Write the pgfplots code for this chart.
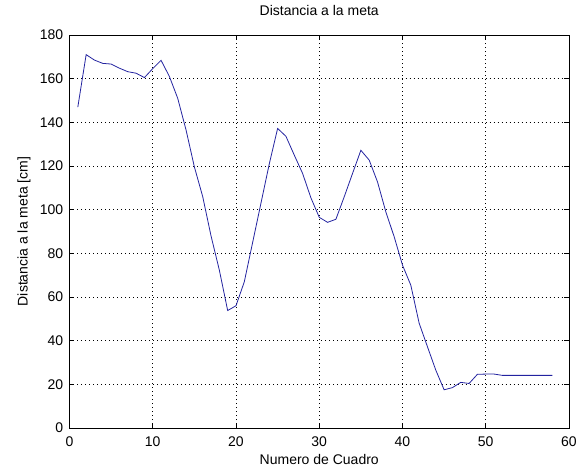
\documentclass[border=0pt]{standalone}
\usepackage{pgfplots}
\pgfplotsset{compat=1.18}
\usepackage{fontspec}
\setmainfont{Liberation Sans}
\definecolor{trace}{RGB}{35,35,160}
\pgfplotstableread{
x y
1 147
2 171
3 168.5
4 167
5 166.7
6 164.8
7 163.2
8 162.5
9 160.5
10 164.6
11 168.4
12 161
13 151
14 136.5
15 119.6
16 106
17 88
18 72.3
19 53.8
20 56
21 67
22 85
23 103
24 121
25 137.2
26 133.6
27 125
28 116.6
29 105.4
30 96.5
31 94.2
32 95.6
33 105.9
34 116.6
35 127.2
36 122.7
37 112.7
38 99
39 87.6
40 74.6
41 65.4
42 48
43 37.2
44 26.5
45 17.5
46 18.5
47 20.9
48 20.4
49 24.6
50 24.7
51 24.7
52 24.1
53 24.1
54 24.1
55 24.1
56 24.1
57 24.1
58 24.1
}\distdata
\begin{document}
\fontsize{14}{16}\selectfont
\begin{tikzpicture}
\begin{axis}[
  at={(0,0)}, anchor=south west,
  scale only axis, width=499.5pt, height=393pt,
  xmin=0, xmax=60, ymin=0, ymax=180,
  xtick={0,10,...,60}, ytick={0,20,...,180},
  tick align=inside, tick pos=both,
  major tick length=5pt,
  tick style={black, line width=0.6pt},
  grid=major,
  major grid style={black, line width=0.6pt, dash pattern=on 0.8pt off 3.2pt},
  axis line style={black, line width=0.8pt},
  /pgf/number format/assume math mode=true,
  ticklabel style={font=\fontsize{14}{16}\selectfont},
  xticklabel style={yshift=-4pt},
  yticklabel style={xshift=-1.5pt},
  title={Distancia a la meta},
  xlabel={Numero de Cuadro},
  ylabel={Distancia a la meta [cm]},
  title style={at={(axis description cs:0.5,1.047)}, anchor=center, font=\fontsize{14}{16}\selectfont},
  xlabel style={at={(axis description cs:0.5,-0.079)}, anchor=center, font=\fontsize{14}{16}\selectfont},
  ylabel style={at={(axis description cs:-0.091,0.5)}, anchor=center, font=\fontsize{14}{16}\selectfont},
]
\addplot[trace, line width=0.8pt] table[x=x, y=y] {\distdata};
\end{axis}
\pgfresetboundingbox
\path[use as bounding box] (-69.5pt,-39pt) rectangle (514.5pt,428pt);
\end{tikzpicture}
\end{document}
